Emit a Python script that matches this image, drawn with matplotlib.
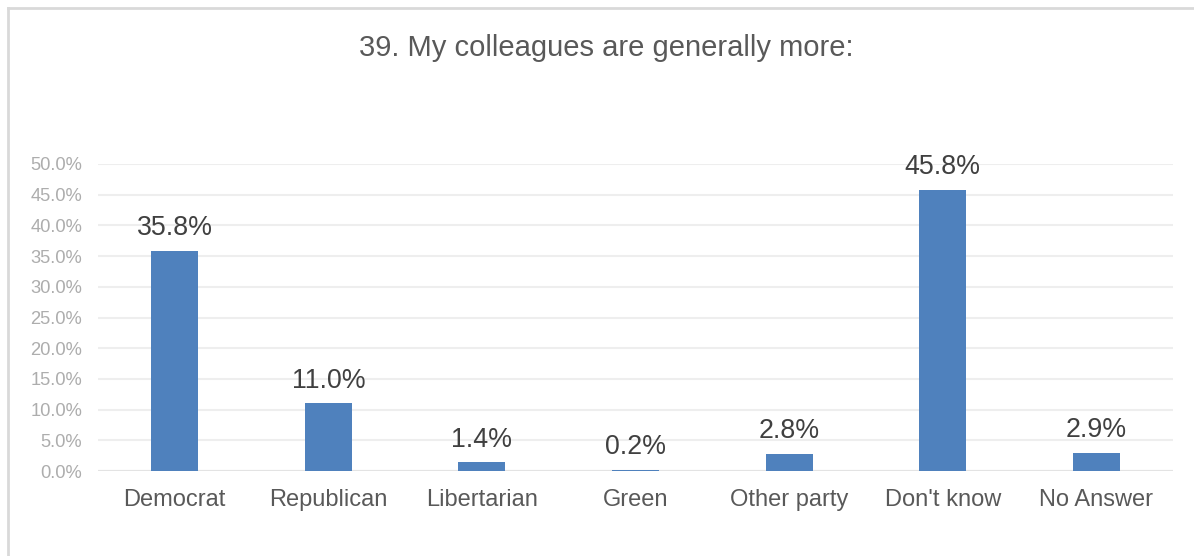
import matplotlib
matplotlib.use("Agg")
import matplotlib.pyplot as plt
from matplotlib.lines import Line2D
from matplotlib.ticker import FuncFormatter, MultipleLocator

plt.rcParams['font.family'] = ['Liberation Sans', 'DejaVu Sans']

categories = ["Democrat", "Republican", "Libertarian", "Green", "Other party", "Don't know", "No Answer"]
values = [0.358, 0.110, 0.014, 0.002, 0.028, 0.458, 0.029]
title = "39. My colleagues are generally more:"

fig = plt.figure(figsize=(11.94, 5.56), dpi=100)
ax = fig.add_axes([98/1194, 1-471/556, (1173-98)/1194, (471-164)/556])

x = range(len(categories))
bars = ax.bar(x, values, width=0.306, color="#4F81BD", zorder=3)
for xi, v in zip(x, values):
    ax.annotate(f"{v*100:.1f}%", (xi, v), xytext=(0, 7), textcoords="offset points",
                ha="center", va="bottom", fontsize=19.3, color="#404040")

ax.set_xlim(-0.5, len(categories) - 0.5)
ax.set_ylim(0, 0.5)
ax.yaxis.set_major_locator(MultipleLocator(0.05))
ax.yaxis.set_major_formatter(FuncFormatter(lambda v, p: f"{v*100:.1f}%"))
ax.set_xticks(list(x))
ax.set_xticklabels(categories)
ax.tick_params(axis="x", length=0, pad=13, labelsize=17, labelcolor="#595959")
ax.tick_params(axis="y", length=0, pad=11.5, labelsize=13.2, labelcolor="#ADADAD")
ax.grid(axis="y", color="#EEEEEE", linewidth=1.5, zorder=0)
for s in ax.spines.values():
    s.set_visible(False)
ax.axhline(0, color="#E3E3E3", linewidth=1.5, zorder=2)

fig.text(606/1194, 1-48/556, title, ha="center", va="center", fontsize=21, color="#595959")

# outer chart border (left and top visible)
fig.add_artist(Line2D([8/1194, 8/1194], [0, 1-8/556], color="#D9D9D9", linewidth=2, transform=fig.transFigure))
fig.add_artist(Line2D([8/1194, 1], [1-8/556, 1-8/556], color="#D9D9D9", linewidth=2, transform=fig.transFigure))

fig.savefig("out.png", dpi=100)
